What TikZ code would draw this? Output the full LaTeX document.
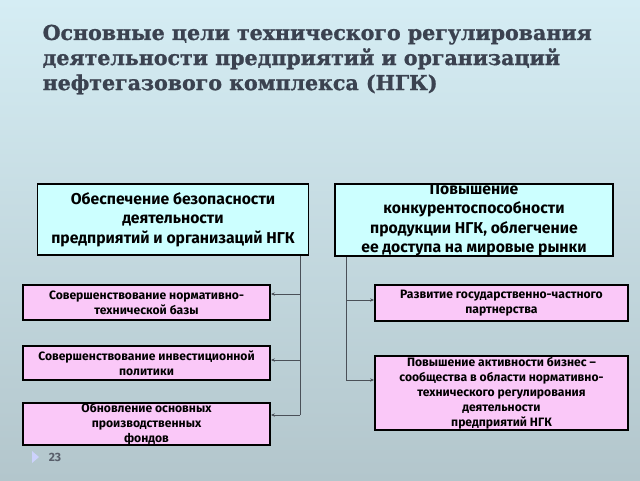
\documentclass[tikz,border=0pt]{standalone}
\usepackage{fontspec}
\setmainfont{DejaVu Serif}
\setsansfont{Fira Sans}
\newfontfamily\titlefont{DejaVu Serif}[BoldFeatures={FakeBold=1.2}]
\usetikzlibrary{arrows.meta}

\definecolor{titlegrey}{HTML}{3B4250}
\definecolor{bluefill}{HTML}{CCFFFF}
\definecolor{pinkfill}{HTML}{FAC8F8}
\definecolor{bgtop}{HTML}{D5EDF4}
\definecolor{bgbottom}{HTML}{B3C6CC}
\definecolor{linegrey}{HTML}{4A5058}

\tikzset{
  goalbox/.style={draw=black, line width=1.4pt, fill=bluefill, inner sep=0pt, align=center,
    font=\sffamily\bfseries\fontsize{11.8}{14.6}\selectfont},
  taskbox/.style={draw=black, line width=1.4pt, fill=pinkfill, inner sep=0pt, align=center,
    font=\sffamily\bfseries\fontsize{9.1}{11.3}\selectfont},
  branch/.style={draw=linegrey, line width=0.6pt},
  tip/.style={branch, -{Stealth[length=3pt,width=2.5pt]}}
}

\begin{document}
\begin{tikzpicture}[x=0.75pt,y=0.75pt,yscale=-1,xscale=1]
%background
\shade [top color=bgtop, bottom color=bgbottom] (0,0) rectangle (640,480);
\useasboundingbox (0,0) rectangle (640,480);

% Title
\node [anchor=north west, align=left, text=titlegrey, font=\titlefont\bfseries\fontsize{15.4}{18.8}\selectfont] (title) at (38,20)
  {Основные цели технического регулирования\\деятельности предприятий и организаций\\нефтегазового комплекса (НГК)};

% Goal boxes
\node [goalbox, minimum width=203.25pt, minimum height=53.25pt] (safety) at (173,219.5)
  {Обеспечение безопасности\\деятельности\\предприятий и организаций НГК};
\node [goalbox, minimum width=208.5pt, minimum height=54pt] (compete) at (474,220)
  {Повышение\\конкурентоспособности\\продукции НГК, облегчение\\ее доступа на мировые рынки};

% Task boxes, left
\node [taskbox, minimum width=185.25pt, minimum height=26.25pt] (norm) at (146.5,302.5)
  {Совершенствование нормативно-\\технической базы};
\node [taskbox, minimum width=185.25pt, minimum height=25.5pt] (invest) at (146.5,363)
  {Совершенствование инвестиционной\\политики};
\node [taskbox, minimum width=185.25pt, minimum height=27pt] (funds) at (146.5,424)
  {Обновление основных\\производственных\\фондов};

% Task boxes, right
\node [taskbox, minimum width=189.75pt, minimum height=27pt] (partner) at (501.5,303)
  {Развитие государственно-частного\\партнерства};
\node [taskbox, minimum width=189.75pt, minimum height=55.5pt] (business) at (501.5,393)
  {Повышение активности бизнес –\\сообщества в области нормативно-\\технического регулирования\\деятельности\\предприятий НГК};

% Connectors, left
\coordinate (lt1) at (300,294);
\coordinate (lt2) at (300,360);
\coordinate (lt3) at (300,415);
\draw [branch] (safety.south -| lt3) -- (lt3);
\draw [tip] (lt1) -- (lt1 -| norm.east);
\draw [tip] (lt2) -- (lt2 -| invest.east);
\draw [tip] (lt3) -- (lt3 -| funds.east);

% Connectors, right
\coordinate (rt1) at (346,300);
\coordinate (rt2) at (346,380);
\draw [branch] (compete.south -| rt2) -- (rt2);
\draw [tip] (rt1) -- (rt1 -| partner.west);
\draw [tip] (rt2) -- (rt2 -| business.west);

% Page number
\fill [color=bgtop!60!blue!40] (32,451) -- (39,457) -- (32,463) -- cycle;
\node [text=titlegrey!85, font=\sffamily\bfseries\fontsize{9}{11}\selectfont] (page) at (55,457) {23};

\end{tikzpicture}
\end{document}
